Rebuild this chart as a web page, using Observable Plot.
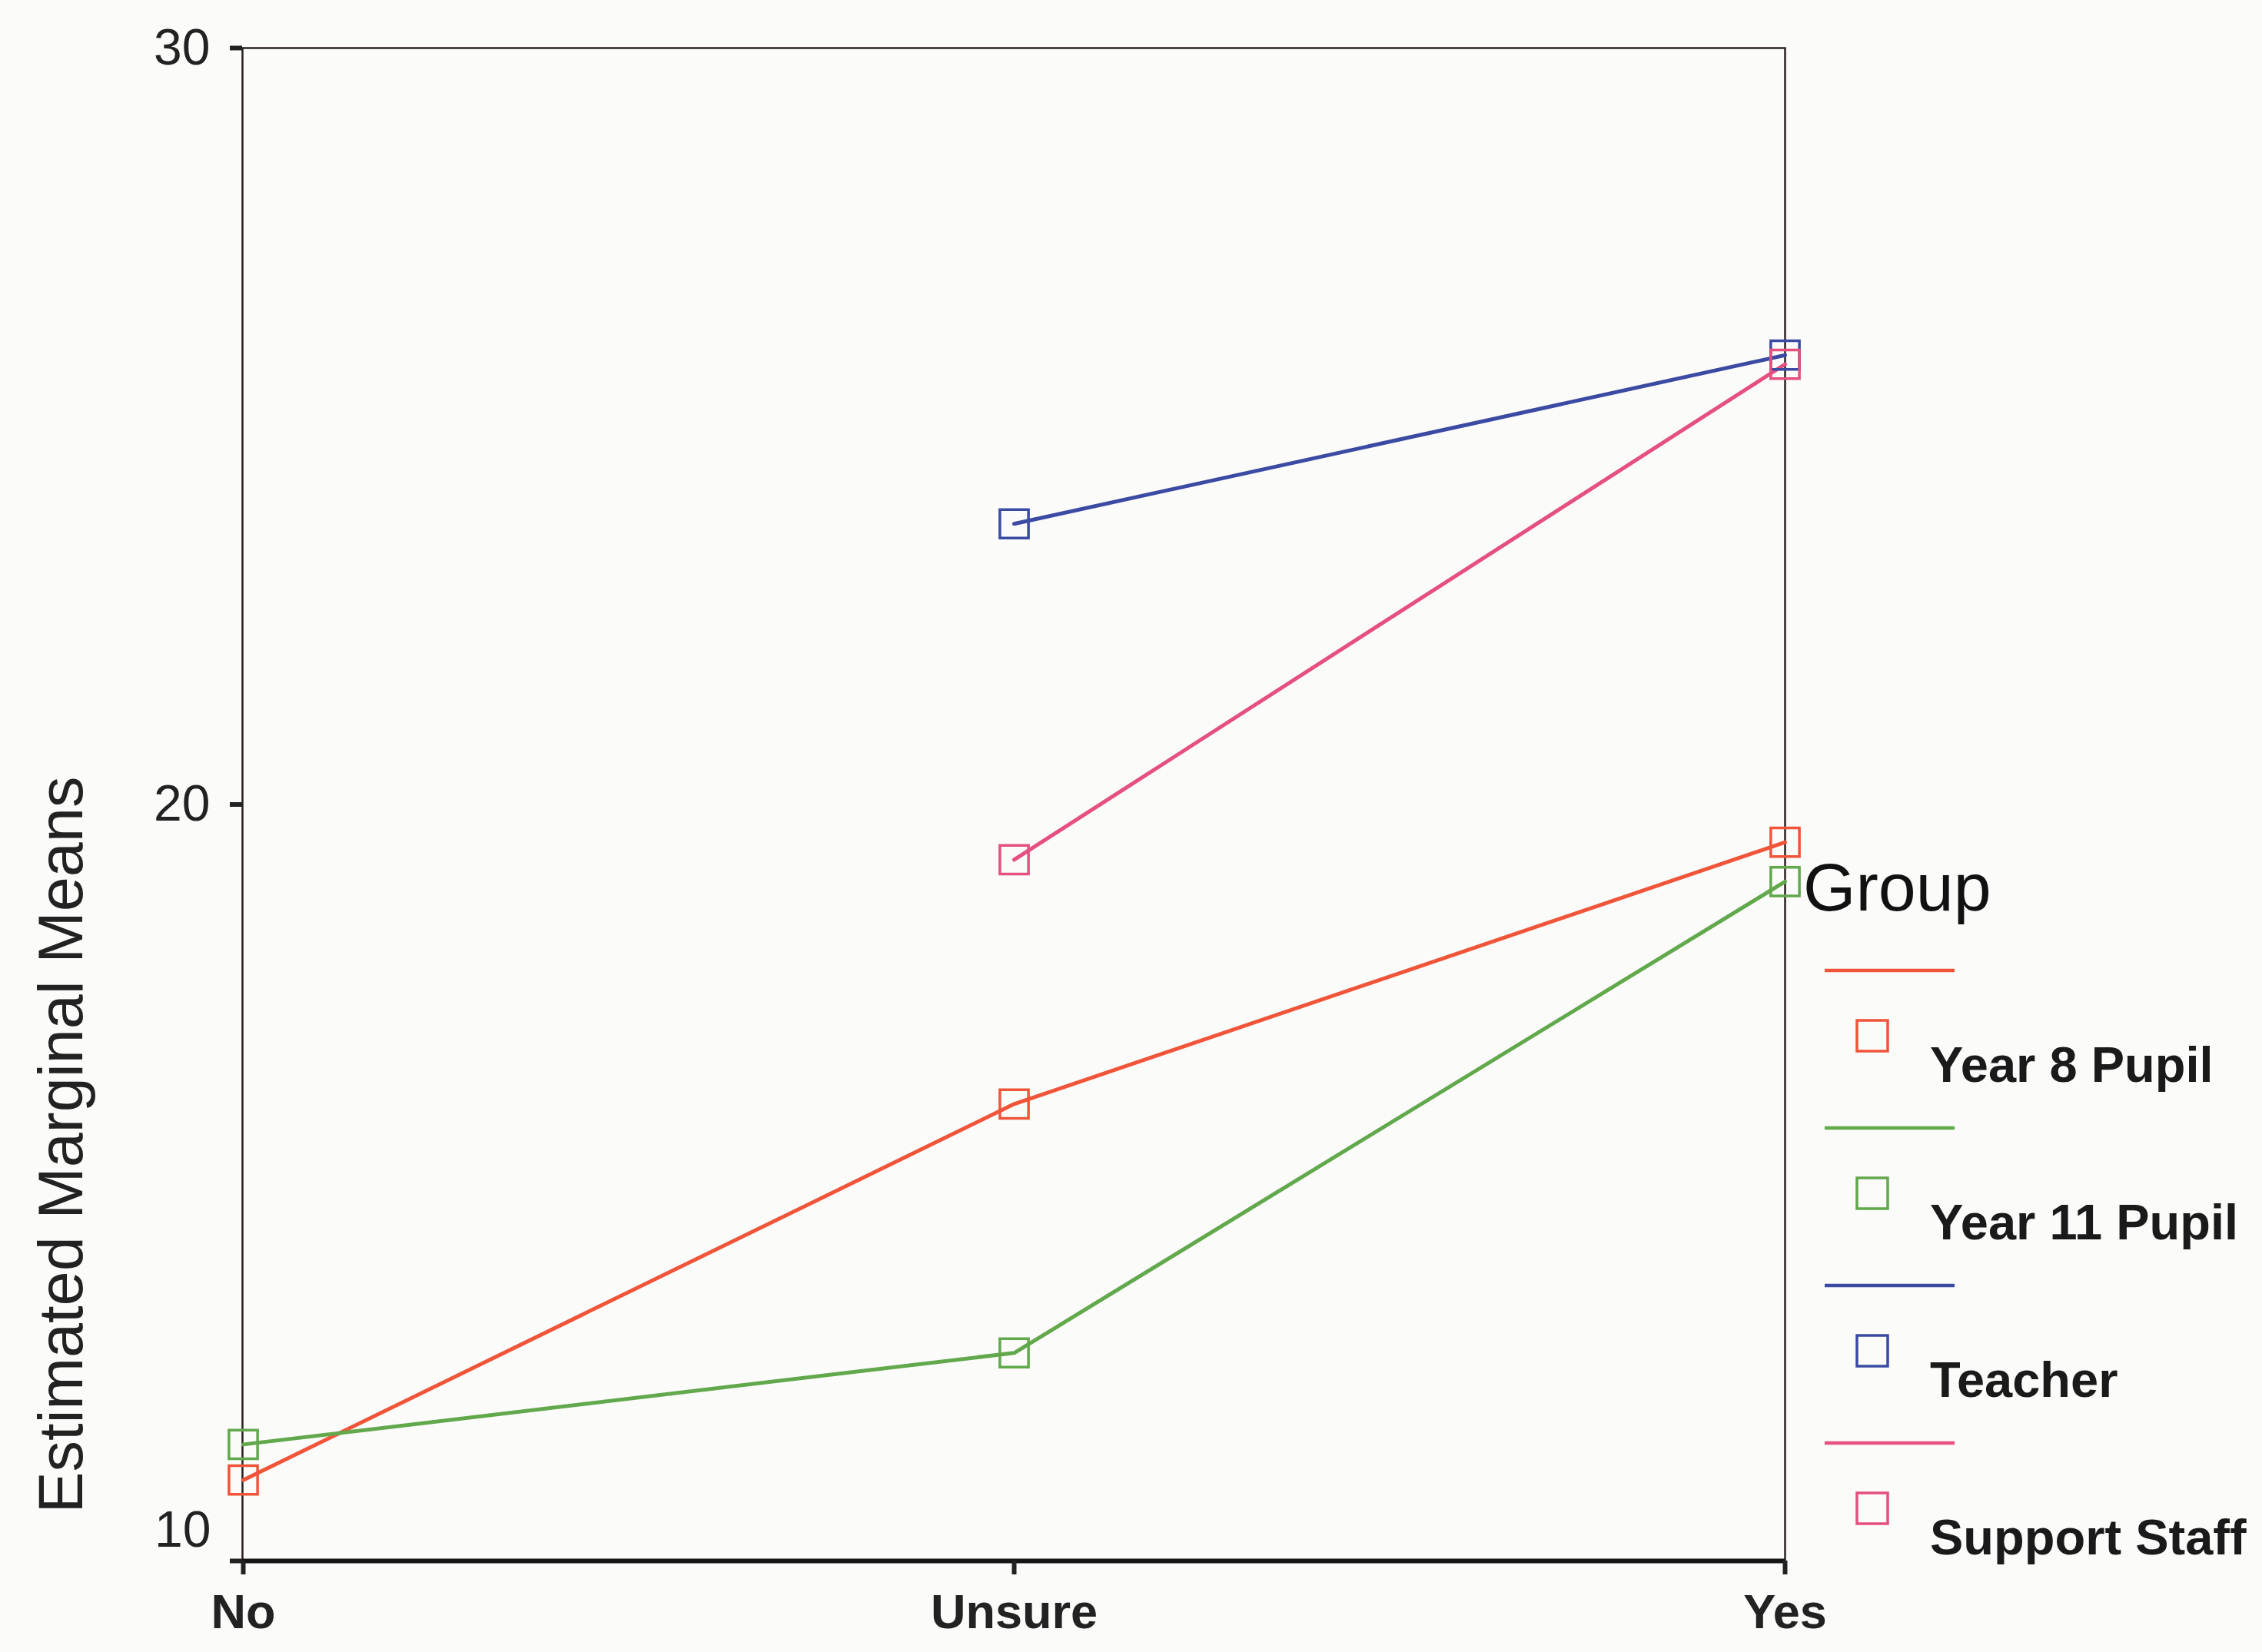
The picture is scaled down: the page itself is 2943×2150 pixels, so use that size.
<!DOCTYPE html>
<html>
<head>
<meta charset="utf-8">
<script src="https://cdn.jsdelivr.net/npm/d3@7"></script>
<script src="https://cdn.jsdelivr.net/npm/@observablehq/plot@0.6"></script>
<style>
  html, body { margin: 0; padding: 0; background: #fbfbf9; }
  #wrap { position: relative; width: 2943px; height: 2150px; font-family: "Liberation Sans", Arial, sans-serif; }
  #ylabel { position: absolute; left: 79px; top: 1490px; transform: translate(-50%, -50%) rotate(-90deg);
            font-size: 81px; color: #222; white-space: nowrap; }
  #legend { position: absolute; left: 2346px; top: 1094px; }
</style>
</head>
<body>
<div id="wrap">
  <div id="ylabel">Estimated Marginal Means</div>
</div>
<script>
// ---- data ----
const categories = ["No", "Unsure", "Yes"];
const groups = ["Year 8 Pupil", "Year 11 Pupil", "Teacher", "Support Staff"];
const groupColors = ["#f0553a", "#62a84c", "#3b4ba3", "#e5507e"];
const year8Values = [11.07, 16.04, 19.5];
const year11Values = [11.54, 12.75, 18.98];
const teacherValues = [null, 23.71, 25.94];
const supportValues = [null, 19.27, 25.82];
const yTicks = [10, 20, 30];
const legendTitle = "Group";
const yLabel = "Estimated Marginal Means";

const seriesValues = [year8Values, year11Values, teacherValues, supportValues];
const rows = [];
groups.forEach((g, gi) => {
  seriesValues[gi].forEach((v, ci) => {
    if (v != null) rows.push({group: g, category: categories[ci], value: v});
  });
});

const chart = Plot.plot({
  width: 2943,
  height: 2150,
  marginLeft: 315,
  marginRight: 621,
  marginTop: 62,
  marginBottom: 119,
  style: {background: "transparent", fontFamily: "'Liberation Sans', Arial, sans-serif", color: "#222"},
  x: {type: "point", domain: categories, padding: 0},
  y: {domain: [10, 30]},
  color: {domain: groups, range: groupColors},
  marks: [
    Plot.frame({stroke: "#2a2222", strokeWidth: 2.5}),
    Plot.ruleY([10], {stroke: "#151515", strokeWidth: 6}),
    Plot.axisY({ticks: yTicks, tickSize: 16, tickPadding: 26, fontSize: 66, strokeWidth: 6,
                tickFormat: d => d === 10 ? "" : String(d), label: null}),
    Plot.text([yTicks[0]], {y: d => d, frameAnchor: "left", dx: -41, dy: -40, textAnchor: "end",
                fontSize: 66, fill: "#222", text: d => String(d)}),
    Plot.axisX({tickSize: 18, tickPadding: 25, fontSize: 63, fontWeight: "bold", strokeWidth: 6, label: null}),
    Plot.line(rows, {x: "category", y: "value", z: "group", stroke: "group", strokeWidth: 5}),
    Plot.dot(rows, {x: "category", y: "value", stroke: "group", symbol: "square", r: 21, strokeWidth: 3.5, fill: "none"})
  ]
});
document.getElementById("wrap").prepend(chart);
document.getElementById("ylabel").textContent = yLabel;

// ---- legend ----
const legend = d3.select("#wrap").append("svg")
  .attr("id", "legend")
  .attr("width", 597).attr("height", 1050)
  .style("font-family", "'Liberation Sans', Arial, sans-serif");
legend.append("text")
  .attr("x", 0).attr("y", 60)
  .attr("dominant-baseline", "central")
  .attr("font-size", 88).attr("fill", "#111")
  .text(legendTitle);
const item = legend.selectAll("g.item").data(groups).join("g")
  .attr("class", "item")
  .attr("transform", (d, i) => `translate(0, ${169 + i * 205})`);
item.append("line")
  .attr("x1", 28).attr("x2", 197).attr("y1", 0).attr("y2", 0)
  .attr("stroke", (d, i) => groupColors[i]).attr("stroke-width", 4.5);
item.append("rect")
  .attr("x", 90 - 20).attr("y", 85 - 20).attr("width", 40).attr("height", 40)
  .attr("fill", "none").attr("stroke", (d, i) => groupColors[i]).attr("stroke-width", 3.5);
item.append("text")
  .attr("x", 165).attr("y", 122)
  .attr("dominant-baseline", "central")
  .attr("font-size", 65).attr("font-weight", "bold").attr("fill", "#1a1a1a")
  .text(d => d);
</script>
</body>
</html>
